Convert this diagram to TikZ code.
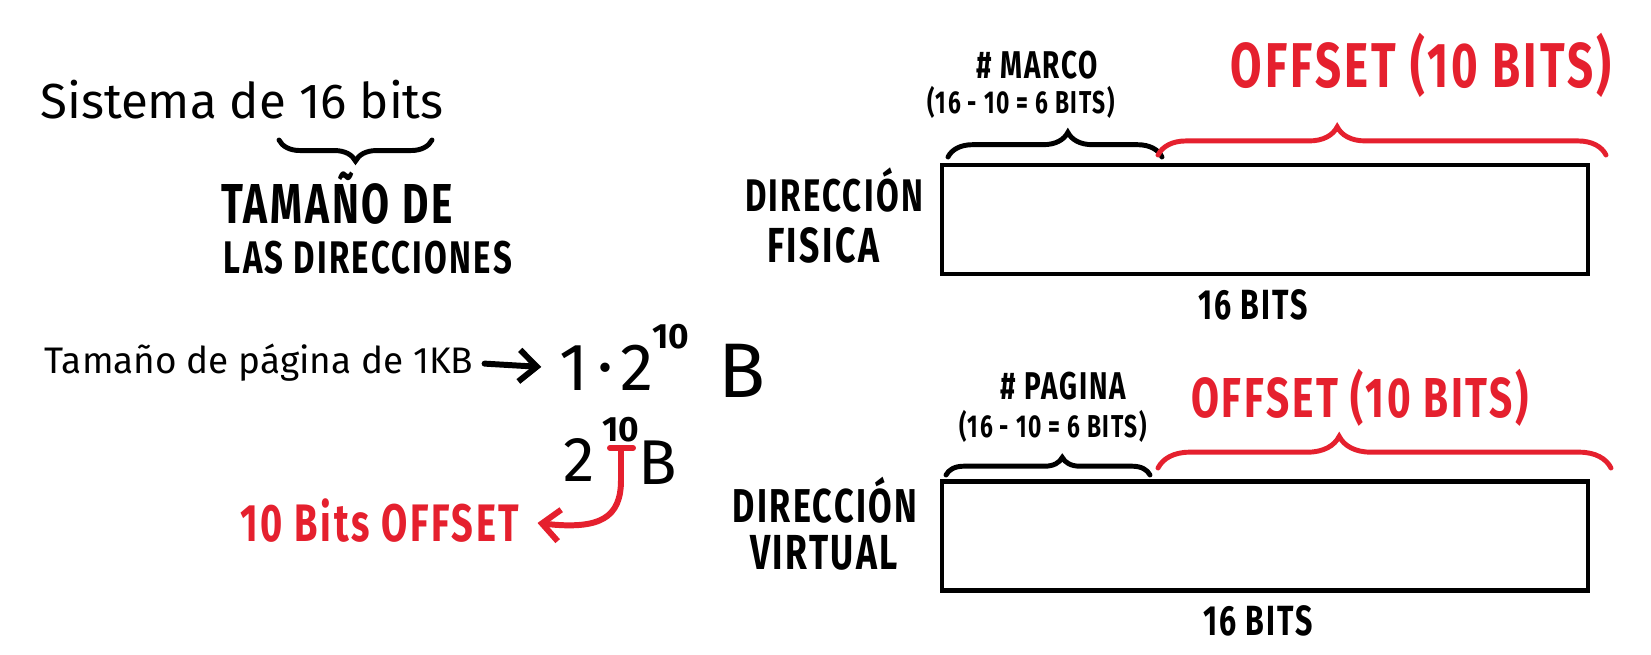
\documentclass[tikz,border=0pt]{standalone}
\usepackage{fontspec}
\setmainfont{Fira Sans}
\newfontfamily\penfont[FakeStretch=0.72,LetterSpace=5]{Fira Sans}
\usepackage{xcolor}
\usepackage{tikz}
\usetikzlibrary{arrows.meta, decorations.pathreplacing}
\definecolor{penred}{HTML}{E5202E}

\begin{document}
\begin{tikzpicture}[x=0.01cm,y=-0.01cm,
  script/.style={inner sep=0pt, font=\fontsize{#1}{#1}\selectfont},
  caps/.style={inner sep=0pt, font=\penfont\bfseries\fontsize{#1}{#1}\selectfont},
  regbox/.style={draw, line width=1.2pt, minimum width=6.46cm, minimum height=1.09cm, inner sep=0pt},
  curly/.style={decorate, line width=1.4pt, line cap=round, decoration={brace, amplitude=#1}},
  ink/.style={line width=1.7pt, line cap=round}]
\useasboundingbox[fill=white] (0,0) rectangle (1651,655);

% left: system and page size
\node[script=14] (sys) at (242,100) {Sistema de 16 bits};
\draw[curly=6pt, decoration={mirror}] (279,140) -- (432,140);
\node[caps=16] (size1) at (337,198) {TAMAÑO DE};
\node[caps=13] (size2) at (368,258) {LAS DIRECCIONES};

\node[script=10.5, anchor=west] (page) at (44,363) {Tamaño de página de 1KB};
\node[script=19] (one) at (574,368) {1};
\node[script=19] (dot) at (606,376) {·};
\node[script=19] (two) at (637,368) {2};
\node[script=11, font=\bfseries] (exp) at (671,337) {10};
\node[script=22] (bee) at (742,371) {B};
\draw[ink, -{Straight Barb[length=5pt,width=9pt]}, shorten <=3pt, shorten >=5pt] (page.east) -- (one.west);

\node[script=18] (two2) at (579,460) {2};
\node[script=10, font=\bfseries] (exp2) at (621,430) {10};
\node[script=18] (bee2) at (658,463) {B};
\path coordinate (tl) at (610,448)
      coordinate (tr) at (633,448)
      coordinate (tb) at (621,448);
\draw[ink, penred] (tl) -- (tr);
\node[caps=15, penred] (offnote) at (380,521) {10 Bits OFFSET};
\draw[ink, penred, -{Straight Barb[length=5pt,width=9pt]}, shorten >=5pt]
  (tb) -- (621,480) .. controls (621,518) and (600,530) .. (offnote.east);

% physical address
\node[regbox] (phys) at (1265,219.5) {};
\node[caps=13] (physa) at (834,190) {DIRECCIÓN};
\node[caps=14] (physb) at (823,245) {FISICA};
\node[caps=12] (physw) at (1253,305) {16 BITS};
\draw[curly=7pt, decoration={aspect=0.56}] (948,157) -- (1162,157);
\draw[curly=8pt, penred, decoration={aspect=0.40}] (1158,155) -- (1606,155);
\node[caps=11] (frame) at (1037,65) {\# MARCO};
\node[caps=9] (framebits) at (1021,102) {(16 - 10 = 6 BITS)};
\node[caps=18, penred] (off1) at (1421,65) {OFFSET (10 BITS)};

% virtual address
\node[regbox] (virt) at (1265,536) {};
\node[caps=13.5] (virta) at (825,500) {DIRECCIÓN};
\node[caps=14] (virtb) at (824,553) {VIRTUAL};
\node[caps=12] (virtw) at (1258,621) {16 BITS};
\draw[curly=5pt, decoration={aspect=0.57}] (946,475) -- (1150,475);
\draw[curly=9pt, penred, decoration={aspect=0.40}] (1158,468) -- (1611,468);
\node[caps=11] (page2) at (1063,386) {\# PAGINA};
\node[caps=9] (pagebits) at (1053,426) {(16 - 10 = 6 BITS)};
\node[caps=16, penred] (off2) at (1360,398) {OFFSET (10 BITS)};
\end{tikzpicture}
\end{document}
